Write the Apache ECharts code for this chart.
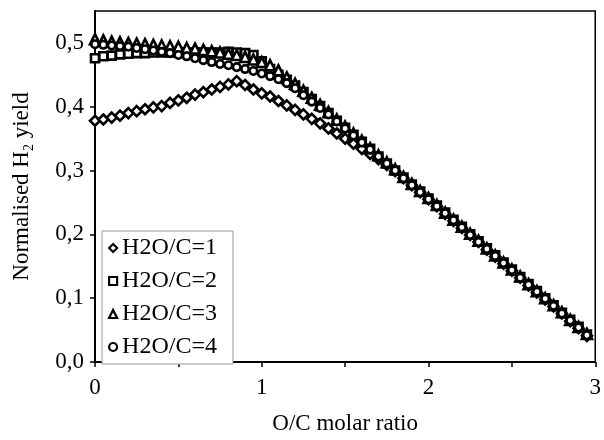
<!DOCTYPE html>
<html>
<head>
<meta charset="utf-8">
<script src="https://cdn.jsdelivr.net/npm/echarts@6/dist/echarts.min.js"></script>
<style>html,body{margin:0;padding:0;background:#fff}#c{width:604px;height:440px}</style>
</head>
<body>
<div id="c"></div>
<script>
const xValues = [0,0.05,0.1,0.15,0.2,0.25,0.3,0.35,0.4,0.45,0.5,0.55,0.6,0.65,0.7,0.75,0.8,0.85,0.9,0.95,
1.0,1.05,1.1,1.15,1.2,1.25,1.3,1.35,1.4,1.45,1.5,1.55,1.6,1.65,1.7,1.75,1.8,1.85,1.9,1.95,
2.0,2.05,2.1,2.15,2.2,2.25,2.3,2.35,2.4,2.45,2.5,2.55,2.6,2.65,2.7,2.75,2.8,2.85,2.9,2.95];

const seriesNames = ['H2O/C=1','H2O/C=2','H2O/C=3','H2O/C=4'];

const yieldHC1 = [.378,.380,.383,.386,.390,.393,.396,.399,.401,.406,.410,.414,.419,.423,.427,.431,.435,.440,.434,.427,
.421,.416,.409,.402,.395,.388,.381,.374,.366,.358,.350,.342,.334,.326,.318,.309,.299,.288,.277,.266,
.255,.244,.232,.221,.210,.199,.188,.176,.165,.154,.143,.132,.120,.109,.098,.087,.076,.064,.053,.041];

const yieldHC2 = [.476,.479,.480,.482,.483,.484,.484,.485,.485,.485,.485,.485,.485,.485,.485,.485,.486,.485,.484,.481,
.471,.459,.450,.442,.433,.423,.412,.401,.390,.378,.367,.356,.345,.334,.322,.311,.300,.289,.278,.267,
.256,.245,.234,.223,.212,.200,.189,.178,.167,.156,.145,.133,.122,.111,.100,.089,.077,.066,.055,.043];

const yieldHC3 = [.506,.504,.502,.501,.500,.499,.498,.497,.496,.495,.494,.492,.491,.489,.487,.485,.483,.481,.478,.474,
.470,.465,.457,.446,.436,.425,.414,.403,.392,.380,.369,.358,.347,.335,.324,.313,.302,.290,.279,.268,
.257,.246,.234,.223,.212,.201,.190,.178,.167,.156,.145,.134,.122,.111,.100,.089,.078,.066,.055,.044];

const yieldHC4 = [.498,.497,.496,.495,.494,.492,.490,.488,.486,.484,.481,.479,.476,.473,.470,.467,.465,.462,.459,.456,
.452,.448,.443,.437,.429,.418,.408,.398,.388,.377,.366,.355,.344,.333,.322,.311,.300,.288,.277,.266,
.255,.244,.233,.222,.211,.199,.188,.177,.166,.155,.144,.132,.121,.110,.099,.088,.076,.065,.054,.042];

const xTickValues = [0,0.5,1,1.5,2,2.5,3];
const xLabelValues = [0,1,2,3];
const yTickValues = [0,0.1,0.2,0.3,0.4,0.5];

const symbols = ['diamond','rect','triangle','circle'];
const symbolSizes = [10,8,10,7.5];
const allY = [yieldHC1,yieldHC2,yieldHC3,yieldHC4];

const FONT = 'Liberation Serif';
const chart = echarts.init(document.getElementById('c'), null, {renderer:'canvas'});

const series = seriesNames.map((name,i)=>({
  name: name,
  type: 'scatter',
  symbol: symbols[i],
  symbolSize: symbolSizes[i],
  data: xValues.map((x,k)=>[x, allY[i][k]]),
  itemStyle: {color:'#fff', borderColor:'#000', borderWidth:2.6, opacity:1},
  emphasis: {disabled:true},
  animation: false
}));

chart.setOption({
  animation: false,
  backgroundColor: '#fff',
  grid: {left:95, right:4, top:11, bottom:72, show:true, borderColor:'#000', borderWidth:1.5, backgroundColor:'transparent'},
  xAxis: {
    type:'value', min:0, max:3, interval:0.5,
    name:'O/C molar ratio', nameLocation:'middle', nameGap:50,
    nameTextStyle:{fontFamily:FONT, fontSize:23, color:'#000'},
    axisLine:{show:true, onZero:false, lineStyle:{color:'#000', width:2}},
    axisTick:{show:true, inside:false, length:5, lineStyle:{color:'#000', width:1.5}, customValues:xTickValues},
    axisLabel:{fontFamily:FONT, fontSize:23, color:'#000', margin:14, customValues:xLabelValues,
      formatter:(v)=> String(v)},
    splitLine:{show:false}
  },
  yAxis: {
    type:'value', min:0, max:0.55, interval:0.1,
    name:'Normalised H{sub|2} yield', nameLocation:'middle', nameGap:62,
    nameTextStyle:{fontFamily:FONT, fontSize:23, color:'#000',
      rich:{sub:{fontFamily:FONT, fontSize:14, color:'#000', verticalAlign:'bottom', padding:[0,0,-3,0]}}},
    axisLine:{show:true, onZero:false, lineStyle:{color:'#000', width:2}},
    axisTick:{show:true, inside:false, length:5, lineStyle:{color:'#000', width:1.5}, customValues:yTickValues},
    axisLabel:{fontFamily:FONT, fontSize:23, color:'#000', margin:11, customValues:yTickValues,
      formatter:(v)=> v.toFixed(1).replace('.', ',')},
    splitLine:{show:false}
  },
  legend: {
    orient:'vertical', left:102, top:231,
    data: seriesNames,
    itemWidth:8, itemHeight:8, itemGap:9,
    padding:[5,16,5,6],
    borderColor:'#999', borderWidth:1,
    backgroundColor:'#fff',
    textStyle:{fontFamily:FONT, fontSize:24, color:'#000', lineHeight:23},
    itemStyle:{color:'#fff', borderColor:'#000', borderWidth:2.2},
    selectedMode:false
  },
  series: series
});
</script>
</body>
</html>
